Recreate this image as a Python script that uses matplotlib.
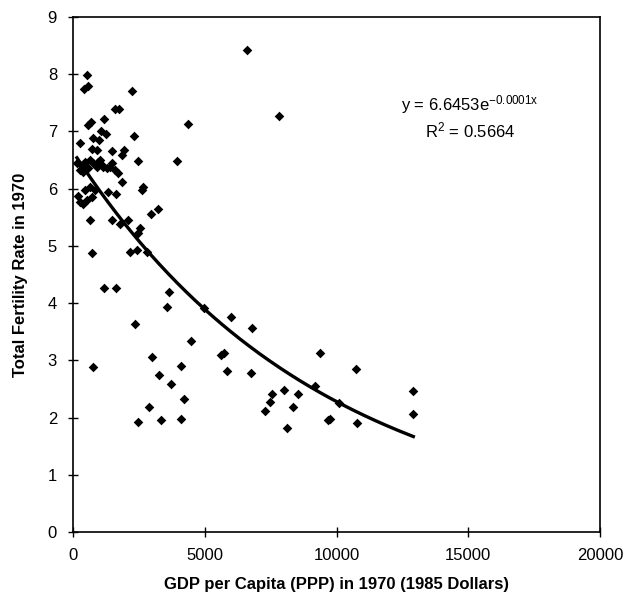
import numpy as np
import matplotlib
matplotlib.use("Agg")
import matplotlib.pyplot as plt

plt.rcParams['font.family'] = ['Liberation Sans', 'DejaVu Sans']
plt.rcParams['mathtext.fontset'] = 'custom'
plt.rcParams['mathtext.rm'] = 'Liberation Sans'
plt.rcParams['mathtext.it'] = 'Liberation Sans'

gdp = [543, 557, 430, 2240, 1594, 1757, 1182, 683, 581, 280,
       747, 1063, 1240, 987, 2320, 709, 899, 1468, 1947, 1847,
       2479, 3930, 4350, 6600, 7820, 330, 455, 645, 770, 900,
       266, 391, 581, 960, 1089, 1279, 1469, 1594, 1719, 1025,
       1150, 1404, 1871, 455, 645, 835, 1341, 1620, 2669, 2606,
       266, 391, 520, 710, 3226, 2950, 645, 1468, 1784, 2100,
       2543, 2479, 709, 2163, 2416, 2820, 1176, 1632, 3643, 3555,
       4972, 5985, 6781, 2353, 4478, 5605, 5731, 2986, 747, 4099,
       5857, 6755, 3251, 3707, 4213, 2897, 2467, 3340, 4087, 9374,
       10728, 12915, 12915, 7541, 7476, 7287, 8019, 8550, 8337, 8110,
       9184, 10106, 9689, 9753, 10766, 190, 150]
tfr = [7.99, 7.80, 7.74, 7.71, 7.39, 7.40, 7.22, 7.17, 7.11, 6.80,
       6.89, 7.00, 6.96, 6.85, 6.92, 6.69, 6.68, 6.65, 6.68, 6.59,
       6.49, 6.48, 7.13, 8.42, 7.27, 6.41, 6.47, 6.50, 6.44, 6.38,
       6.33, 6.30, 6.36, 6.47, 6.41, 6.36, 6.44, 6.33, 6.27, 6.50,
       6.38, 6.38, 6.11, 5.98, 6.03, 5.97, 5.95, 5.91, 6.03, 5.98,
       5.77, 5.74, 5.80, 5.86, 5.64, 5.55, 5.45, 5.45, 5.39, 5.46,
       5.31, 5.22, 4.87, 4.90, 4.93, 4.90, 4.26, 4.26, 4.20, 3.94,
       3.91, 3.76, 3.56, 3.63, 3.33, 3.09, 3.13, 3.06, 2.88, 2.90,
       2.81, 2.77, 2.74, 2.59, 2.32, 2.18, 1.92, 1.96, 1.97, 3.13,
       2.84, 2.47, 2.06, 2.42, 2.28, 2.11, 2.49, 2.42, 2.18, 1.82,
       2.55, 2.25, 1.95, 1.97, 1.91, 5.87, 6.45]

fit_a = 6.6453
fit_k = 0.000107
xticks = [0, 5000, 10000, 15000, 20000]
yticks = list(range(0, 10))

fig = plt.figure(figsize=(6.27, 6.0), dpi=100)
ax = fig.add_axes([73/627, 68/600, 527/627, 515/600])

ax.scatter(gdp, tfr, marker='D', s=24, color='black', linewidths=0, zorder=3)

xs = np.linspace(min(gdp), max(gdp), 300)
ax.plot(xs, fit_a * np.exp(-fit_k * xs), color='black', lw=2.4, zorder=2)

ax.set_xlim(0, 20000)
ax.set_ylim(0, 9)
ax.set_xticks(xticks)
ax.set_yticks(yticks)
ax.tick_params(direction='inout', length=7, width=1, labelsize=12, pad=8, colors='black')
for s in ax.spines.values():
    s.set_color('black')
    s.set_linewidth(1.2)

ax.set_xlabel('GDP per Capita (PPP) in 1970 (1985 Dollars)', fontsize=12, fontweight='bold', labelpad=10)
ax.set_ylabel('Total Fertility Rate in 1970', fontsize=12, fontweight='bold', labelpad=14)

fig.text(470/627, 1 - 105/600, r'y = 6.6453e$^{\mathregular{-0.0001x}}$', fontsize=12,
         ha='center', va='center')
fig.text(470/627, 1 - 130/600, r'R$^{\mathregular{2}}$ = 0.5664', fontsize=12,
         ha='center', va='center')

fig.savefig('out.png', dpi=100, facecolor='white')
